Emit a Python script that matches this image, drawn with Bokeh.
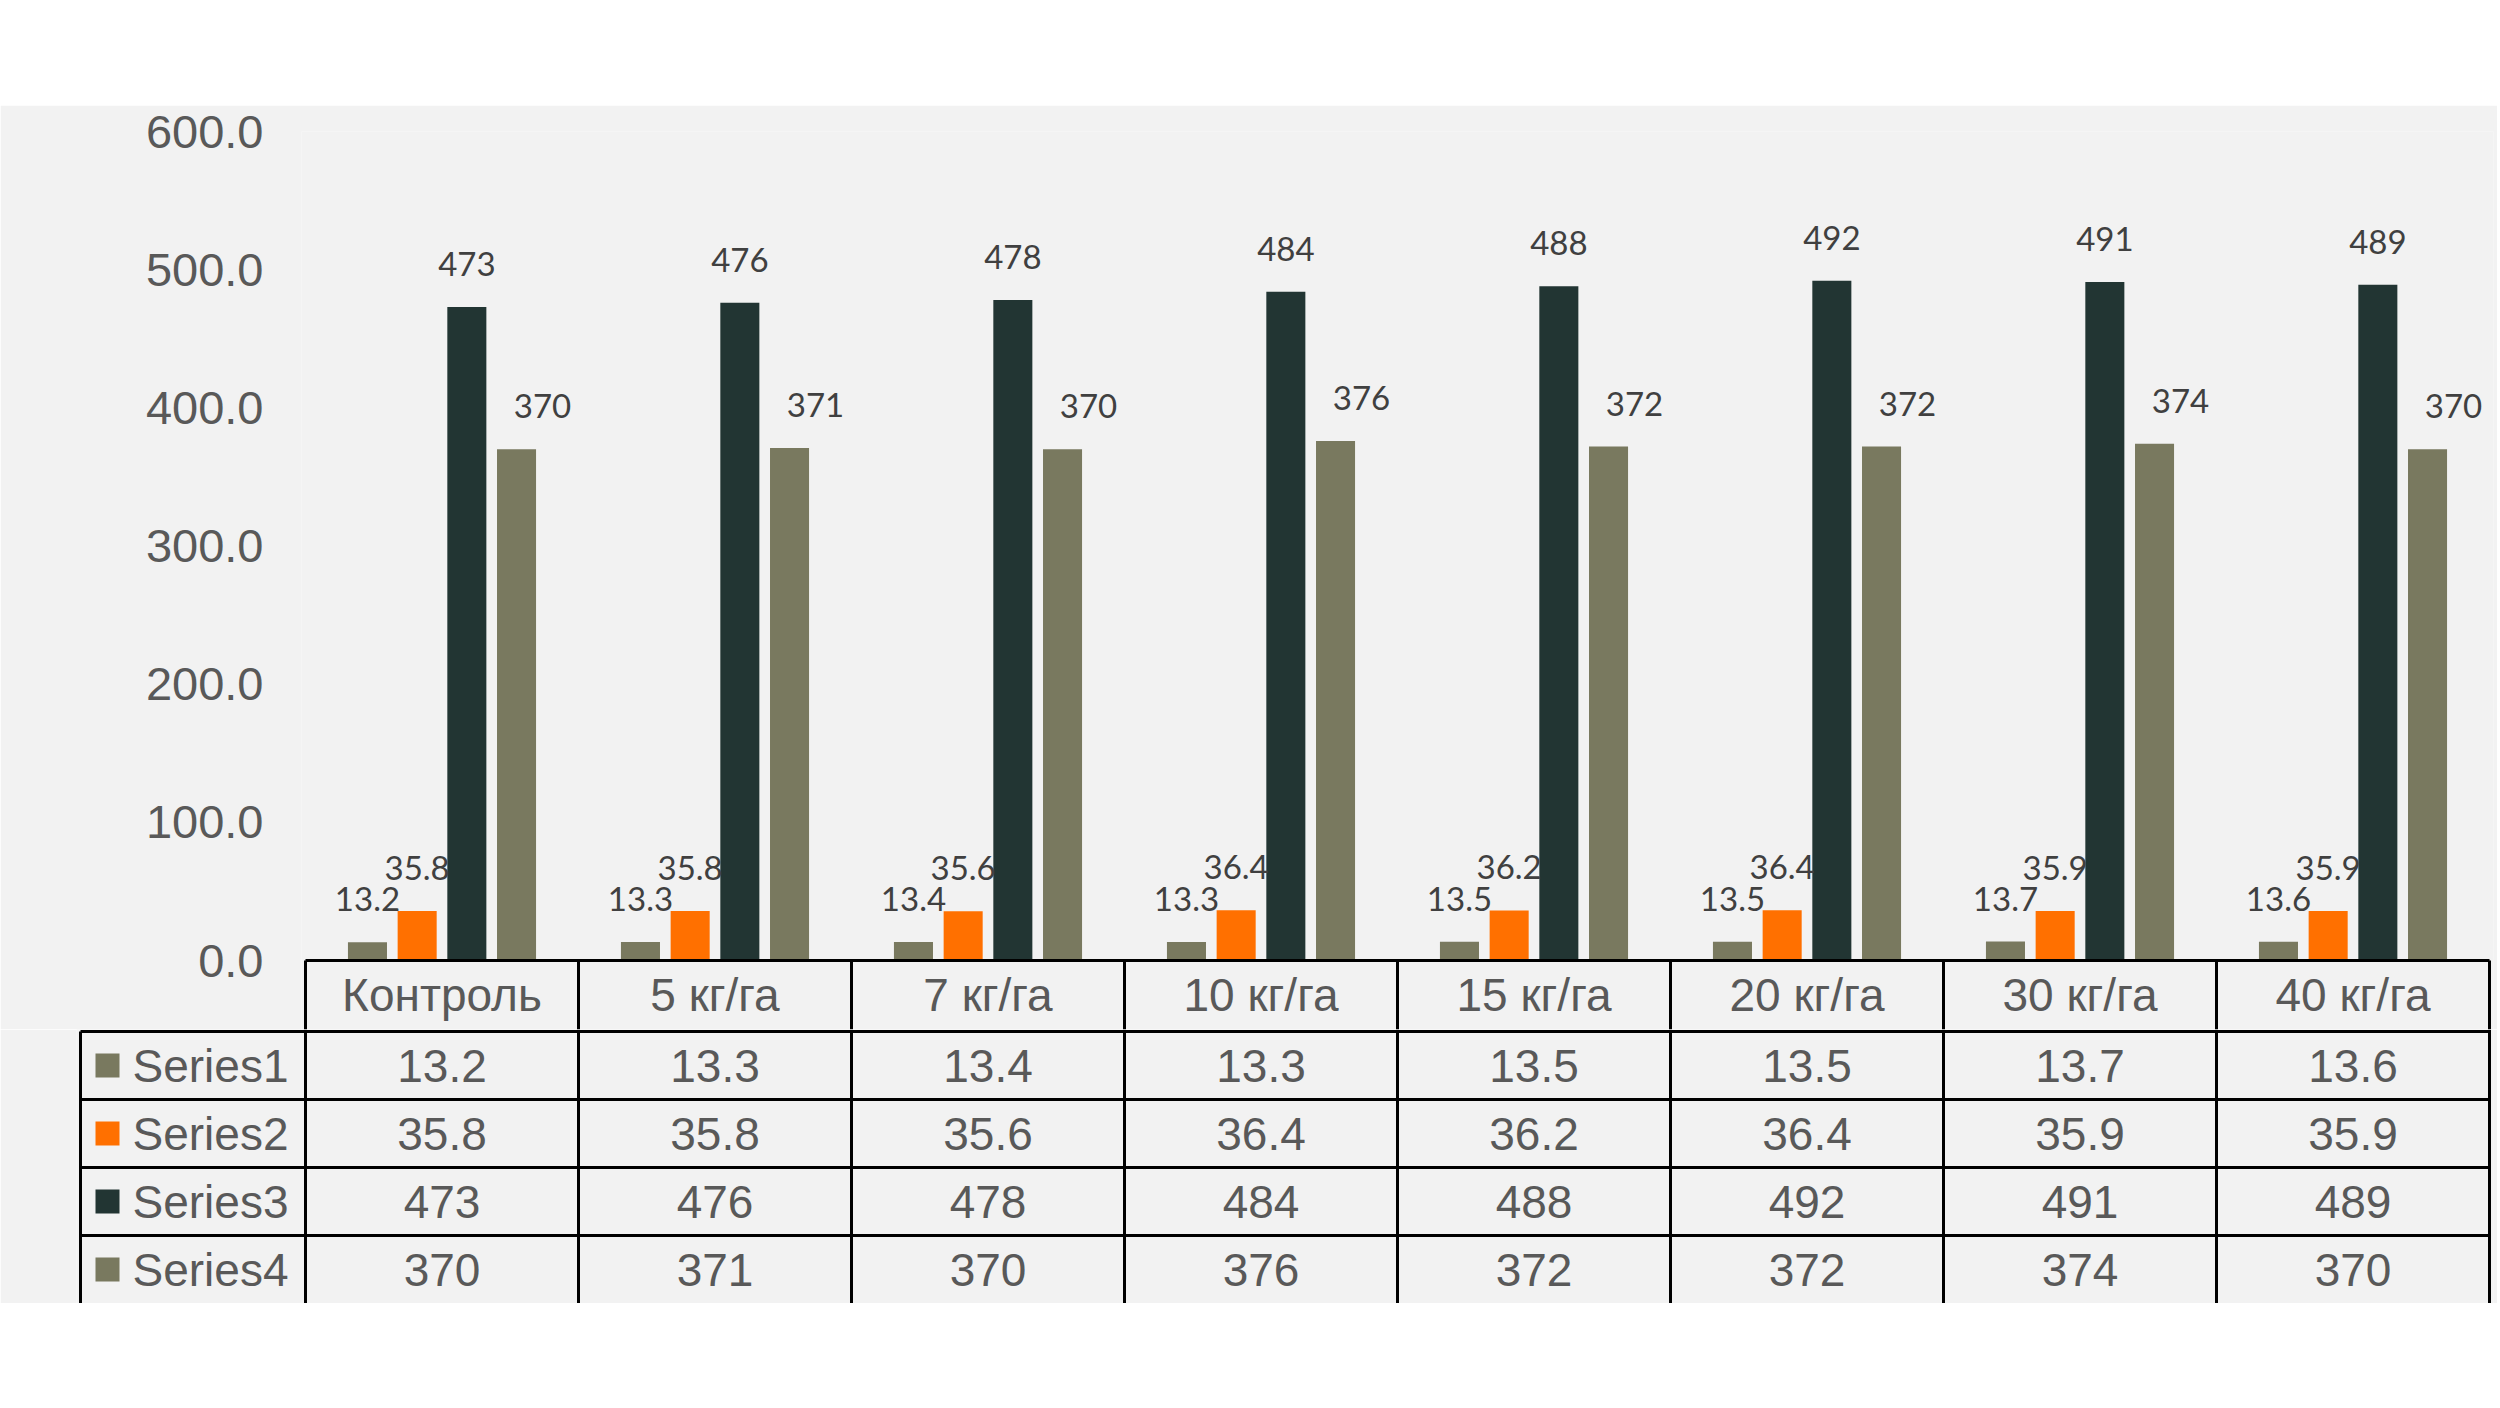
from bokeh.plotting import figure
from bokeh.models import (ColumnDataSource, FactorRange, Range1d, FixedTicker,
                          NumeralTickFormatter, LabelSet, Spacer)
from bokeh.transform import dodge
from bokeh.core.properties import value
from bokeh.embed import file_html
from bokeh.resources import INLINE

# ---------------- data ----------------
categories = ["Контроль", "5 кг/га", "7 кг/га", "10 кг/га", "15 кг/га", "20 кг/га", "30 кг/га", "40 кг/га"]
series_names = ["Series1", "Series2", "Series3", "Series4"]
series1 = [13.2, 13.3, 13.4, 13.3, 13.5, 13.5, 13.7, 13.6]
series2 = [35.8, 35.8, 35.6, 36.4, 36.2, 36.4, 35.9, 35.9]
series3 = [473, 476, 478, 484, 488, 492, 491, 489]
series4 = [370, 371, 370, 376, 372, 372, 374, 370]
y_ticks = [0, 100, 200, 300, 400, 500, 600]

# ---------------- style ----------------
BG = "#f2f2f2"
COLORS = ["#79795f", "#ff7000", "#223533", "#79795f"]
DECIMALS = [1, 1, 0, 0]
TXT = "#595959"
LBL = "#404040"
TABLE_FONT = value("Liberation Sans")
W = 2497
U = 273.0              # px per category column
PAD = 4.0              # px padding of frame beyond table
A_H, A_TOP = 924, 26
FRAME_A_H = A_H - A_TOP
PX_PER_UNIT = (960 - 131) / 600.0
HR = (FRAME_A_H - 600 * PX_PER_UNIT) / PX_PER_UNIT   # header row height in data units
B_H = 274
HDR_LEFT = -(305 - 80) / U      # left edge of row-header column (in column units)

all_series = [series1, series2, series3, series4]

def fmt(v, d):
    return f"{v:.{d}f}" if d else f"{int(v)}"

# ---------------- figure A : bars ----------------
pA = figure(width=W, height=A_H, output_backend="svg", toolbar_location=None,
            x_range=FactorRange(factors=categories, range_padding=PAD / U,
                                range_padding_units="absolute"),
            y_range=Range1d(-HR, 600), min_border_left=301, min_border_right=4,
            min_border_top=A_TOP, min_border_bottom=0, title=None)
pA.background_fill_color = BG
pA.border_fill_color = BG
pA.outline_line_color = None
pA.xgrid.visible = False
pA.ygrid.visible = False
pA.xaxis.visible = False
ya = pA.yaxis[0]
ya.ticker = FixedTicker(ticks=y_ticks)
ya.formatter = NumeralTickFormatter(format="0.0")
ya.axis_line_color = None
ya.major_tick_line_color = None
ya.minor_tick_line_color = None
ya.major_tick_out = 0
ya.major_tick_in = 0
ya.major_label_standoff = 38
ya.major_label_text_font = "Liberation Sans"
ya.major_label_text_font_size = "47px"
ya.major_label_text_color = TXT

offsets = [-0.273, -0.091, 0.091, 0.273]
label_dx = [0, 0, 0, 26]
for k, (vals, col) in enumerate(zip(all_series, COLORS)):
    src = ColumnDataSource(dict(cat=categories, val=vals,
                                lab=[fmt(v, DECIMALS[k]) for v in vals]))
    pA.vbar(x=dodge("cat", offsets[k], range=pA.x_range), top="val", bottom=0,
            width=0.143, source=src, fill_color=col, line_color=None)
    pA.add_layout(LabelSet(x=dodge("cat", offsets[k], range=pA.x_range), y="val",
                           text="lab", source=src, text_align="center",
                           text_baseline="middle", y_offset=43, x_offset=label_dx[k],
                           text_font=value("Lato"), text_font_size="33px",
                           text_color=LBL))

# header row of table (category names) and its lines
n = len(categories)
pA.segment(x0=[0], y0=[0], x1=[n], y1=[0], line_color="black", line_width=3)
pA.segment(x0=list(range(n + 1)), y0=[0] * (n + 1), x1=list(range(n + 1)),
           y1=[-HR] * (n + 1), line_color="black", line_width=3)
pA.text(x=categories, y=[-HR / 2] * n, text=categories, text_align="center",
        text_baseline="middle", text_font=TABLE_FONT, text_font_size="46px",
        text_color=TXT)

# ---------------- figure B : data table ----------------
pB = figure(width=W, height=B_H, output_backend="svg", toolbar_location=None,
            x_range=Range1d(HDR_LEFT - PAD / U, n + PAD / U),
            y_range=Range1d(4, -0.03), min_border_left=76, min_border_right=4,
            min_border_top=0, min_border_bottom=0, title=None)
pB.background_fill_color = BG
pB.border_fill_color = BG
pB.outline_line_color = None
pB.xgrid.visible = False
pB.ygrid.visible = False
pB.xaxis.visible = False
pB.yaxis.visible = False

rows = len(series_names)
pB.segment(x0=[HDR_LEFT] * rows, y0=list(range(rows)), x1=[n] * rows,
           y1=list(range(rows)), line_color="black", line_width=3)
xs = list(range(n + 1))
pB.segment(x0=xs, y0=[-0.03] * len(xs), x1=xs, y1=[4] * len(xs),
           line_color="black", line_width=3)
pB.segment(x0=[HDR_LEFT], y0=[0], x1=[HDR_LEFT], y1=[4],
           line_color="black", line_width=3)

row_c = [r + 0.5 for r in range(rows)]
pB.rect(x=[HDR_LEFT + 27 / U] * rows, y=row_c, width=24, height=24,
        width_units="screen", height_units="screen", fill_color=COLORS,
        line_color=None)
pB.text(x=[HDR_LEFT] * rows, y=row_c, text=series_names, x_offset=52,
        text_align="left", text_baseline="middle", text_font=TABLE_FONT,
        text_font_size="46px", text_color=TXT)

tx, ty, tt = [], [], []
for r, vals in enumerate(all_series):
    for i, v in enumerate(vals):
        tx.append(i + 0.5)
        ty.append(r + 0.5)
        tt.append(fmt(v, DECIMALS[r]))
pB.text(x=tx, y=ty, text=tt, text_align="center", text_baseline="middle",
        text_font=TABLE_FONT, text_font_size="46px", text_color=TXT)

spacer = Spacer(width=W, height=105)
open("out.html", "w").write(file_html([spacer, pA, pB], INLINE))
